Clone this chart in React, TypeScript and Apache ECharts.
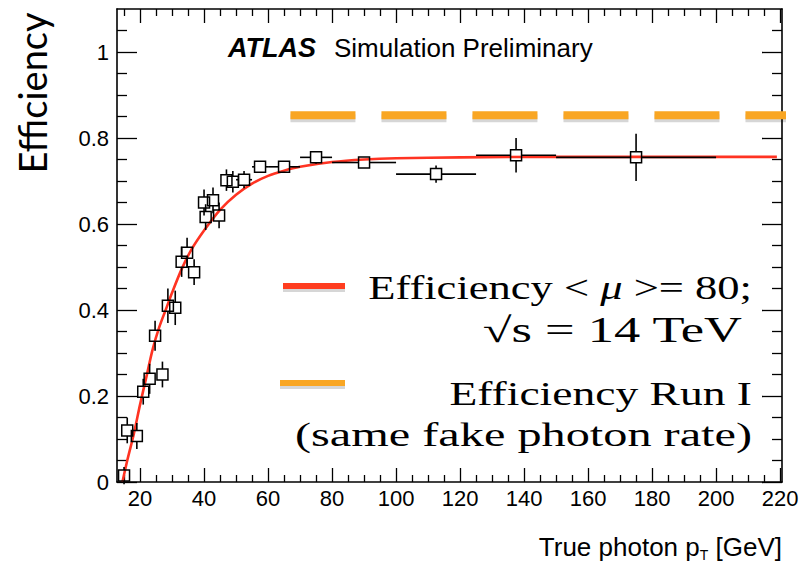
import React, { useEffect, useRef } from "react";
import * as echarts from "echarts";

// Measured points (true photon pT [GeV], efficiency) with errors
const ptX = [15, 16, 19, 21, 23, 27, 24.7, 28.7, 31, 33, 34.7, 36.9, 40, 42.8, 40.5, 44.7, 47, 49, 52.5, 57.5, 65, 75, 90, 112.5, 137.5, 175];
const ptY = [0.015, 0.12, 0.107, 0.21, 0.24, 0.25, 0.34, 0.41, 0.405, 0.512, 0.533, 0.488, 0.65, 0.655, 0.616, 0.62, 0.702, 0.698, 0.703, 0.733, 0.733, 0.755, 0.743, 0.716, 0.76, 0.755];
const ptXErr = [1, 1, 1, 1, 1, 1, 1, 1, 1, 1, 1, 1, 1, 1, 1, 1, 1, 1, 2.5, 2.5, 5, 5, 10, 12.5, 12.5, 25];
const ptYErr = [0.02, 0.03, 0.03, 0.03, 0.035, 0.03, 0.035, 0.04, 0.04, 0.035, 0.035, 0.03, 0.03, 0.03, 0.03, 0.03, 0.025, 0.025, 0.02, 0.01, 0.01, 0.015, 0.012, 0.02, 0.04, 0.055];

// Fit curve
const fitX = [14.5, 16, 18, 20, 22, 24, 26, 28, 30, 33, 36, 40, 45, 50, 55, 60, 65, 70, 80, 90, 100, 120, 150, 180, 219];
const fitY = [0, 0.05, 0.11, 0.18, 0.245, 0.31, 0.36, 0.4, 0.44, 0.495, 0.54, 0.585, 0.633, 0.668, 0.694, 0.712, 0.724, 0.733, 0.744, 0.75, 0.753, 0.755, 0.756, 0.756, 0.756];

// Run I reference level (with its drop shadow a few pixels below)
const refX = [67, 228];
const refY = [0.853, 0.853];
const refShadowY = [0.846, 0.846];

// Ticks
const xMajor = [20, 40, 60, 80, 100, 120, 140, 160, 180, 200, 220];
const xMinor = [15, 25, 30, 35, 45, 50, 55, 65, 70, 75, 85, 90, 95, 105, 110, 115, 125, 130, 135, 145, 150, 155, 165, 170, 175, 185, 190, 195, 205, 210, 215];
const yMajor = [0, 0.2, 0.4, 0.6, 0.8, 1];
const yMinor = [0.05, 0.1, 0.15, 0.25, 0.3, 0.35, 0.45, 0.5, 0.55, 0.65, 0.7, 0.75, 0.85, 0.9, 0.95, 1.05];

const X_MIN = 12.8;
const X_MAX = 220.6;
const Y_MIN = 0;
const Y_MAX = 1.1;

const ORANGE = "#f9a623";
const RED = "#ff3322";

export default function App() {
  const ref = useRef<HTMLDivElement>(null);
  useEffect(() => {
    if (!ref.current) return;
    const chart = echarts.init(ref.current, null, { renderer: "svg" });
    const tickStyle = { color: "#000", width: 1.3 };
    const lineStyle = { color: "#000", width: 1.6 };
    const labelFont = { color: "#000", fontSize: 22, fontFamily: "Liberation Sans" };
    const xBase = { type: "value", min: X_MIN, max: X_MAX, splitLine: { show: false } };
    const yBase = { type: "value", min: Y_MIN, max: Y_MAX, splitLine: { show: false } };
    const serif = (text: string, x: number, y: number, size: number, sx: number) => ({
      type: "text",
      x,
      y,
      scaleX: sx,
      z: 10,
      style: {
        text,
        fontFamily: "Liberation Serif",
        fontSize: size,
        fill: "#000",
        textAlign: "right",
        textVerticalAlign: "middle",
      },
    });
    const option: any = {
      animation: false,
      backgroundColor: "#fff",
      grid: { left: 117, right: 23, top: 9, bottom: 84, containLabel: false },
      xAxis: [
        {
          ...xBase,
          position: "bottom",
          axisLine: { show: true, onZero: false, lineStyle },
          axisTick: { show: true, inside: true, length: 14, customValues: xMajor, lineStyle: tickStyle },
          axisLabel: { show: true, customValues: xMajor, margin: 5, ...labelFont },
        },
        {
          ...xBase,
          position: "bottom",
          axisLine: { show: false, onZero: false },
          axisTick: { show: true, inside: true, length: 7, customValues: xMinor, lineStyle: tickStyle },
          axisLabel: { show: false },
        },
        {
          ...xBase,
          position: "top",
          axisLine: { show: true, onZero: false, lineStyle },
          axisTick: { show: true, inside: true, length: 14, customValues: xMajor, lineStyle: tickStyle },
          axisLabel: { show: false },
        },
        {
          ...xBase,
          position: "top",
          axisLine: { show: false, onZero: false },
          axisTick: { show: true, inside: true, length: 7, customValues: xMinor, lineStyle: tickStyle },
          axisLabel: { show: false },
        },
      ],
      yAxis: [
        {
          ...yBase,
          position: "left",
          axisLine: { show: true, onZero: false, lineStyle },
          axisTick: { show: true, inside: true, length: 20, customValues: yMajor, lineStyle: tickStyle },
          axisLabel: {
            show: true,
            customValues: yMajor,
            margin: 8,
            formatter: (v: number) => String(+v.toFixed(2)),
            ...labelFont,
          },
        },
        {
          ...yBase,
          position: "left",
          axisLine: { show: false, onZero: false },
          axisTick: { show: true, inside: true, length: 10, customValues: yMinor, lineStyle: tickStyle },
          axisLabel: { show: false },
        },
        {
          ...yBase,
          position: "right",
          axisLine: { show: true, onZero: false, lineStyle },
          axisTick: { show: true, inside: true, length: 20, customValues: yMajor, lineStyle: tickStyle },
          axisLabel: { show: false },
        },
        {
          ...yBase,
          position: "right",
          axisLine: { show: false, onZero: false },
          axisTick: { show: true, inside: true, length: 10, customValues: yMinor, lineStyle: tickStyle },
          axisLabel: { show: false },
        },
      ],
      series: [
        {
          type: "line",
          name: "fit",
          xAxisIndex: 0,
          yAxisIndex: 0,
          data: fitX.map((x, i) => [x, fitY[i]]),
          smooth: 0.3,
          showSymbol: false,
          symbol: "none",
          lineStyle: { color: RED, width: 2.6 },
          z: 3,
        },
        {
          type: "custom",
          name: "points",
          xAxisIndex: 0,
          yAxisIndex: 0,
          data: ptX.map((x, i) => [x, ptY[i], ptXErr[i], ptYErr[i]]),
          encode: { x: 0, y: 1 },
          z: 4,
          renderItem: (params: any, api: any) => {
            const x = api.value(0);
            const y = api.value(1);
            const xe = api.value(2);
            const ye = api.value(3);
            const c = api.coord([x, y]);
            const l = api.coord([x - xe, y]);
            const r = api.coord([x + xe, y]);
            const t = api.coord([x, y + ye]);
            const b = api.coord([x, y - ye]);
            const h = 5.5;
            const st = { stroke: "#000", lineWidth: 1.6, fill: null };
            const children: any[] = [];
            if (c[0] - h > l[0]) children.push({ type: "line", shape: { x1: l[0], y1: c[1], x2: c[0] - h, y2: c[1] }, style: st });
            if (r[0] > c[0] + h) children.push({ type: "line", shape: { x1: c[0] + h, y1: c[1], x2: r[0], y2: c[1] }, style: st });
            if (c[1] - h > t[1]) children.push({ type: "line", shape: { x1: c[0], y1: t[1], x2: c[0], y2: c[1] - h }, style: st });
            if (b[1] > c[1] + h) children.push({ type: "line", shape: { x1: c[0], y1: c[1] + h, x2: c[0], y2: b[1] }, style: st });
            children.push({
              type: "rect",
              shape: { x: c[0] - h, y: c[1] - h, width: 2 * h, height: 2 * h },
              style: { stroke: "#000", lineWidth: 1.5, fill: "rgba(255,255,255,0)" },
            });
            return { type: "group", children };
          },
        },
        {
          type: "line",
          name: "run1shadow",
          xAxisIndex: 0,
          yAxisIndex: 0,
          data: refX.map((x, i) => [x, refShadowY[i]]),
          showSymbol: false,
          symbol: "none",
          clip: false,
          silent: true,
          lineStyle: { color: "rgba(0,0,0,0.16)", width: 8, type: [65, 26] },
          z: 5,
        },
        {
          type: "line",
          name: "run1",
          xAxisIndex: 0,
          yAxisIndex: 0,
          data: refX.map((x, i) => [x, refY[i]]),
          showSymbol: false,
          symbol: "none",
          clip: false,
          lineStyle: { color: ORANGE, width: 8, type: [65, 26] },
          z: 6,
        },
      ],
      graphic: [
        {
          type: "text",
          x: 228,
          y: 48,
          style: {
            text: "ATLAS",
            fontFamily: "Liberation Sans",
            fontWeight: "bold",
            fontStyle: "italic",
            fontSize: 27,
            fill: "#000",
            textVerticalAlign: "middle",
          },
        },
        {
          type: "text",
          x: 334,
          y: 48,
          style: {
            text: "Simulation Preliminary",
            fontFamily: "Liberation Sans",
            fontSize: 26,
            fill: "#000",
            textVerticalAlign: "middle",
          },
        },
        {
          type: "text",
          x: 32,
          y: 93,
          rotation: Math.PI / 2,
          style: {
            text: "Efficiency",
            fontFamily: "Lato",
            fontSize: 38,
            fill: "#000",
            textAlign: "center",
            textVerticalAlign: "middle",
          },
        },
        {
          type: "text",
          x: 782,
          y: 547,
          style: {
            text: "{a|True photon p}{s|T}{a| [GeV]}",
            textAlign: "right",
            textVerticalAlign: "middle",
            rich: {
              a: { fontFamily: "Liberation Sans", fontSize: 26, fill: "#000", lineHeight: 30 },
              s: { fontFamily: "Liberation Sans", fontSize: 14, fill: "#000", lineHeight: 30, padding: [16, 0, 0, 0] },
            },
          },
        },
        {
          type: "line",
          shape: { x1: 283, y1: 289, x2: 345, y2: 289 },
          style: { stroke: "rgba(0,0,0,0.16)", lineWidth: 6 },
          z: 9,
        },
        {
          type: "line",
          shape: { x1: 283, y1: 286, x2: 345, y2: 286 },
          style: { stroke: "#ff3d1f", lineWidth: 6 },
          z: 10,
        },
        {
          type: "line",
          shape: { x1: 280, y1: 386, x2: 345, y2: 386 },
          style: { stroke: "rgba(0,0,0,0.16)", lineWidth: 6 },
          z: 9,
        },
        {
          type: "line",
          shape: { x1: 280, y1: 383, x2: 345, y2: 383 },
          style: { stroke: ORANGE, lineWidth: 6 },
          z: 10,
        },
        {
          type: "text",
          x: 752,
          y: 288,
          scaleX: 1.35,
          z: 10,
          style: {
            text: "{n|Efficiency < }{i|μ}{n| >= 80;}",
            textAlign: "right",
            textVerticalAlign: "middle",
            rich: {
              n: { fontFamily: "Liberation Serif", fontSize: 33, fill: "#000" },
              i: { fontFamily: "Liberation Serif", fontStyle: "italic", fontSize: 33, fill: "#000" },
            },
          },
        },
        serif("√s = 14 TeV", 742, 330, 35, 1.5),
        serif("Efficiency Run I", 752, 394, 33, 1.38),
        serif("(same fake photon rate)", 752, 435, 34, 1.42),
      ],
    };
    chart.setOption(option);
    return () => chart.dispose();
  }, []);
  return (
    <div
      ref={ref}
      style={{ position: "fixed", left: 0, top: 0, width: 805, height: 566, background: "#fff" }}
    />
  );
}
